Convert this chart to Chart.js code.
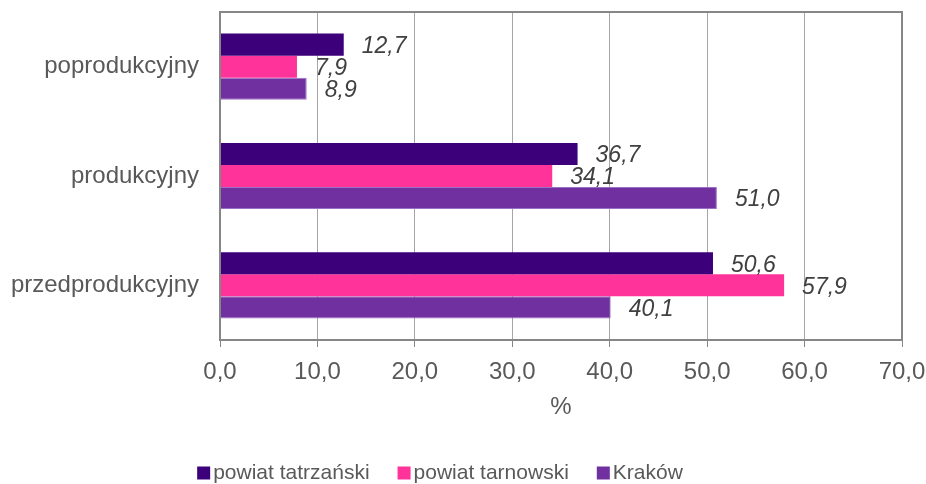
<!DOCTYPE html>
<html>
<head>
<meta charset="utf-8">
<script src="https://cdn.jsdelivr.net/npm/chart.js@4"></script>
<style>
  html, body { margin: 0; padding: 0; background: #fff; }
  #wrap { width: 926px; height: 484px; }
</style>
</head>
<body>
<div id="wrap"><canvas id="ageChart"></canvas></div>
<script>
var categories = ['poprodukcyjny', 'produkcyjny', 'przedprodukcyjny'];
var tatrzanski = [12.7, 36.7, 50.6];
var tarnowski = [7.9, 34.1, 57.9];
var krakow = [8.9, 51.0, 40.1];
var seriesNames = ['powiat tatrzański', 'powiat tarnowski', 'Kraków'];
var seriesColors = ['#3d007b', '#ff3399', '#7030a0'];
var xTicks = [0, 10, 20, 30, 40, 50, 60, 70];

var FONT = '"Liberation Sans", Arial, sans-serif';
var TEXT = '#595959';
var SIZE = 24;

function fmt(v) {
  return v.toFixed(1).replace('.', ',');
}

// value labels drawn just past the end of each bar
var valueLabels = {
  id: 'valueLabels',
  afterDatasetsDraw: function (chart) {
    var ctx = chart.ctx;
    ctx.save();
    ctx.font = 'italic 23px ' + FONT;
    ctx.fillStyle = '#404040';
    ctx.textBaseline = 'middle';
    ctx.textAlign = 'left';
    chart.data.datasets.forEach(function (ds, i) {
      chart.getDatasetMeta(i).data.forEach(function (bar, j) {
        ctx.fillText(fmt(ds.data[j]), bar.x + 18, bar.y + 2);
      });
    });
    ctx.restore();
  }
};

// grey frame round the plot area
var plotFrame = {
  id: 'plotFrame',
  afterDraw: function (chart) {
    var a = chart.chartArea;
    var ctx = chart.ctx;
    ctx.save();
    ctx.strokeStyle = '#868686';
    ctx.lineWidth = 2;
    ctx.strokeRect(a.left, a.top, a.right - a.left, a.bottom - a.top);
    ctx.restore();
  }
};

// compact legend row under the axis title: small square, tight gap, label
var bottomLegend = {
  id: 'bottomLegend',
  afterDraw: function (chart) {
    var ctx = chart.ctx;
    var box = 13, gap = 3, spacing = 28, cy = 473;
    ctx.save();
    ctx.font = '21px ' + FONT;
    ctx.textBaseline = 'middle';
    var items = chart.data.datasets.map(function (ds) {
      return { text: ds.label, color: ds.backgroundColor, w: ctx.measureText(ds.label).width };
    });
    var total = items.reduce(function (s, it) { return s + box + gap + it.w; }, 0) + spacing * (items.length - 1);
    var x = 440 - total / 2;
    items.forEach(function (it) {
      ctx.fillStyle = it.color;
      ctx.fillRect(x, cy - box / 2, box, box);
      x += box + gap;
      ctx.fillStyle = TEXT;
      ctx.fillText(it.text, x, cy);
      x += it.w + spacing;
    });
    ctx.restore();
  }
};

new Chart(document.getElementById('ageChart').getContext('2d'), {
  type: 'bar',
  data: {
    labels: categories,
    datasets: [
      { label: seriesNames[0], data: tatrzanski, backgroundColor: seriesColors[0] },
      { label: seriesNames[1], data: tarnowski, backgroundColor: seriesColors[1] },
      { label: seriesNames[2], data: krakow, backgroundColor: seriesColors[2], borderColor: '#9b6fc4', borderWidth: 1 }
    ]
  },
  options: {
    indexAxis: 'y',
    responsive: true,
    maintainAspectRatio: false,
    animation: false,
    layout: { padding: { top: 12, right: 24, left: 0, bottom: 62 } },
    datasets: {
      bar: { barPercentage: 1, categoryPercentage: 0.605 }
    },
    plugins: {
      legend: { display: false },
      tooltip: { enabled: false }
    },
    scales: {
      x: {
        min: 0,
        max: 70,
        afterBuildTicks: function (axis) {
          axis.ticks = xTicks.map(function (v) { return { value: v }; });
        },
        grid: {
          color: '#a6a6a6',
          lineWidth: 1,
          tickLength: 7,
          tickColor: '#868686'
        },
        border: { display: false },
        ticks: {
          color: TEXT,
          padding: 11,
          font: { family: FONT, size: SIZE },
          callback: function (v) { return fmt(v); }
        },
        title: {
          display: true,
          text: '%',
          color: TEXT,
          padding: { top: 8, bottom: 0 },
          font: { family: FONT, size: SIZE }
        },
        afterFit: function (axis) {
          axis.height = 82;
          axis.paddingLeft = 0;
          axis.paddingRight = 0;
        }
      },
      y: {
        grid: { display: false, drawTicks: false },
        border: { display: false },
        ticks: {
          color: TEXT,
          padding: 21,
          font: { family: FONT, size: SIZE }
        },
        afterFit: function (axis) {
          axis.width = 220;
          axis.paddingTop = 0;
          axis.paddingBottom = 0;
        }
      }
    }
  },
  plugins: [valueLabels, plotFrame, bottomLegend]
});
</script>
</body>
</html>
